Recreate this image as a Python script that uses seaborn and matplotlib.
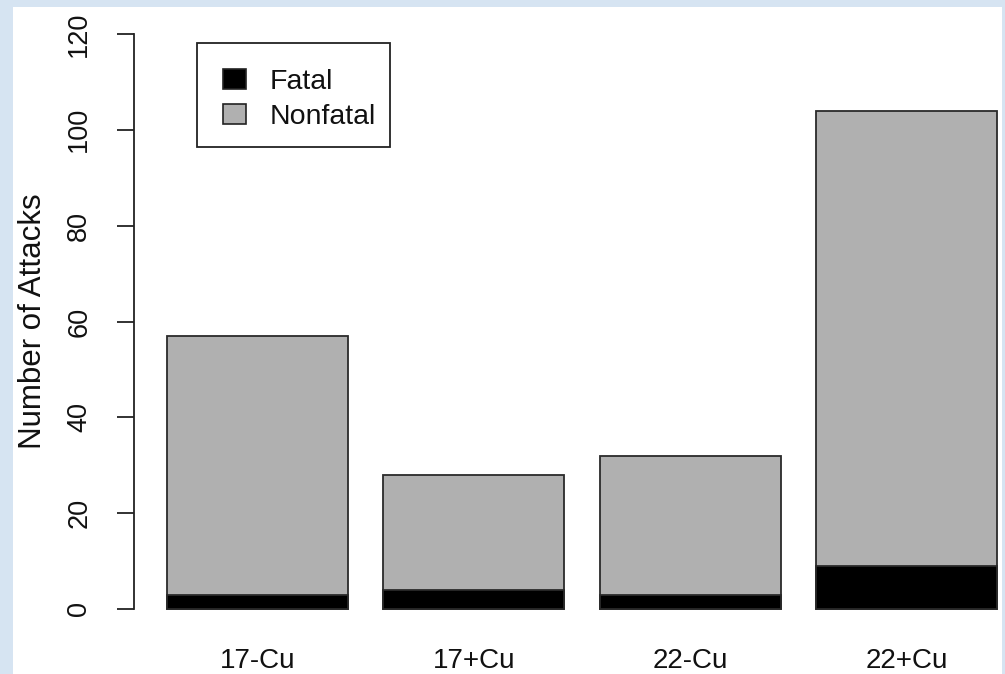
import matplotlib
matplotlib.use("Agg")
import matplotlib.pyplot as plt
import seaborn as sns
import pandas as pd
from matplotlib.patches import Patch, Rectangle

categories = ["17-Cu", "17+Cu", "22-Cu", "22+Cu"]
fatal = [3, 4, 3, 9]
nonfatal = [54, 24, 29, 95]
yticks = [0, 20, 40, 60, 80, 100, 120]

totals = [f + n for f, n in zip(fatal, nonfatal)]
df = pd.DataFrame({"group": categories, "fatal": fatal, "total": totals})

sns.set_style("white")
plt.rcParams["font.family"] = ["Liberation Sans", "DejaVu Sans"]

W, H = 1005, 674
fig = plt.figure(figsize=(W / 100, H / 100), dpi=100)
fig.patch.set_facecolor("#d6e4f2")
fig.patches.append(Rectangle((13 / W, 0), (1002 - 13) / W, (H - 7) / H,
                             transform=fig.transFigure, facecolor="white",
                             edgecolor="none", zorder=-5))

ax = fig.add_axes([134 / W, (H - 609) / H, (1000 - 134) / W, 575 / H])
ax.set_facecolor("none")
ax.set_zorder(2)

bw = 181 / 216.5
sns.barplot(data=df, x="group", y="total", color="#b0b0b0", saturation=1,
            width=bw, edgecolor="#2a2a2a", linewidth=1.3, ax=ax, zorder=2,
            clip_on=False)
sns.barplot(data=df, x="group", y="fatal", color="black", saturation=1,
            width=bw, edgecolor="#2a2a2a", linewidth=1.3, ax=ax, zorder=3,
            clip_on=False)

ax.set_xlim(-0.570, 3.432)
ax.set_ylim(0, 120)
ax.set_yticks(yticks)
ax.set_yticklabels([str(v) for v in yticks], rotation=90, va="center",
                   fontsize=19.5)
ax.tick_params(axis="y", length=12, width=1.3, pad=18, color="#222222",
               labelcolor="#111111", left=True)
ax.tick_params(axis="x", length=0, pad=28, labelsize=20, labelcolor="#111111")
ax.set_xlabel("")
ax.set_ylabel("Number of Attacks", fontsize=22.5, color="#111111", labelpad=13)

for s in ["top", "right", "bottom"]:
    ax.spines[s].set_visible(False)
ax.spines["left"].set_color("#222222")
ax.spines["left"].set_linewidth(1.3)

handles = [Patch(facecolor="black", edgecolor="#222222", linewidth=1.2, label="Fatal"),
           Patch(facecolor="#b0b0b0", edgecolor="#222222", linewidth=1.2, label="Nonfatal")]
leg = fig.legend(handles=handles, loc="upper left",
                 bbox_to_anchor=(223 / W, 1 - 69 / H), borderaxespad=0,
                 fontsize=20.5, frameon=False,
                 handlelength=0.8, handleheight=0.7, handletextpad=0.85,
                 borderpad=0, labelspacing=0.3)
leg.set_zorder(5)
for t in leg.get_texts():
    t.set_color("#111111")
fig.patches.append(Rectangle((197 / W, 1 - 147 / H), (390 - 197) / W, (147 - 43) / H,
                             transform=fig.transFigure, facecolor="white",
                             edgecolor="#222222", linewidth=1.3, zorder=4))

fig.savefig("out.png", dpi=100, facecolor=fig.get_facecolor())
